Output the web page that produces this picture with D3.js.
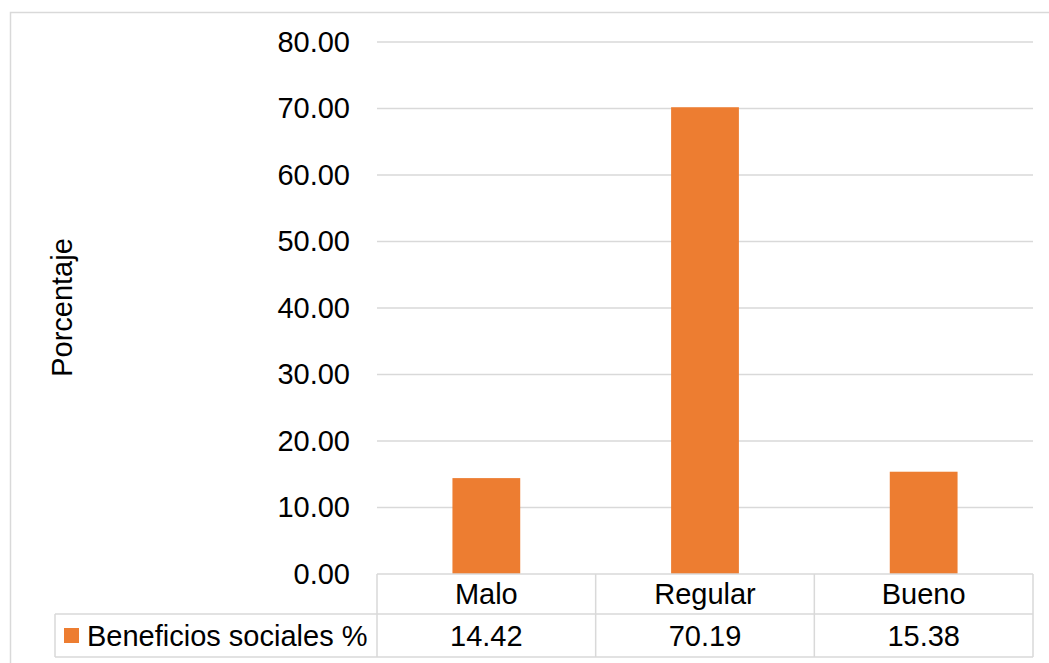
<!DOCTYPE html>
<html>
<head>
<meta charset="utf-8">
<script src="https://cdn.jsdelivr.net/npm/d3@7"></script>
<style>
  html, body { margin: 0; padding: 0; background: #fff; }
  svg { display: block; }
  text { font-family: "Liberation Sans", Arial, sans-serif; fill: #000; }
</style>
</head>
<body>
<svg id="chart" width="1049" height="663"></svg>
<script>
const categories = ["Malo", "Regular", "Bueno"];
const values = [14.42, 70.19, 15.38];
const valueLabels = ["14.42", "70.19", "15.38"];
const seriesName = "Beneficios sociales %";
const yTicks = [0, 10, 20, 30, 40, 50, 60, 70, 80];
const yTitle = "Porcentaje";

const svg = d3.select("#chart");
const W = 1049, H = 663;
const plot = { left: 377, right: 1033, top: 42, bottom: 574 };
const gridColor = "#d9d9d9";
const barColor = "#ED7D31";
const fontSize = 29;

// outer chart border (extends past the image on right and bottom)
svg.append("rect")
  .attr("x", 10.5).attr("y", 12.5)
  .attr("width", W + 20).attr("height", H + 20)
  .attr("fill", "#fff").attr("stroke", gridColor).attr("stroke-width", 1.5);

const y = d3.scaleLinear().domain([0, 80]).range([plot.bottom, plot.top]);
const x = d3.scaleBand().domain(categories)
  .range([plot.left, plot.right])
  .paddingInner(0.69).paddingOuter(0.345);
const col = d3.scaleBand().domain(categories).range([plot.left, plot.right]);

// gridlines
svg.append("g").selectAll("line").data(yTicks.filter(d => d > 0)).join("line")
  .attr("x1", plot.left).attr("x2", plot.right)
  .attr("y1", d => y(d)).attr("y2", d => y(d))
  .attr("stroke", gridColor).attr("stroke-width", 1.5);

// y axis labels
const yAxis = d3.axisLeft(y).tickValues(yTicks).tickFormat(d3.format(".2f")).tickSize(0).tickPadding(27);
const ya = svg.append("g").attr("transform", `translate(${plot.left},0)`).call(yAxis);
ya.select(".domain").remove();
ya.selectAll("text").attr("font-size", fontSize)
  .attr("font-family", "Liberation Sans, Arial, sans-serif").attr("fill", "#000");

// bars
svg.append("g").selectAll("rect").data(categories).join("rect")
  .attr("x", d => x(d)).attr("width", x.bandwidth())
  .attr("y", (d, i) => y(values[i]))
  .attr("height", (d, i) => y(0) - y(values[i]))
  .attr("fill", barColor);

// data table
const rowTop = plot.bottom, rowMid = 614, rowBot = 657, legLeft = 55;
const tg = svg.append("g").attr("stroke", gridColor).attr("stroke-width", 1.5).attr("fill", "none");
tg.append("line").attr("x1", plot.left).attr("x2", plot.right).attr("y1", rowTop).attr("y2", rowTop);
tg.append("line").attr("x1", legLeft).attr("x2", plot.right).attr("y1", rowMid).attr("y2", rowMid);
tg.append("line").attr("x1", legLeft).attr("x2", plot.right).attr("y1", rowBot).attr("y2", rowBot);
tg.append("line").attr("x1", legLeft).attr("x2", legLeft).attr("y1", rowMid).attr("y2", rowBot);
const colEdges = categories.map(c => col(c)).concat([plot.right]);
tg.selectAll("line.v").data(colEdges).join("line").attr("class", "v")
  .attr("x1", d => d).attr("x2", d => d).attr("y1", rowTop).attr("y2", rowBot);

svg.append("g").selectAll("text").data(categories).join("text")
  .attr("x", d => col(d) + col.bandwidth() / 2)
  .attr("y", (rowTop + rowMid) / 2)
  .attr("dy", "0.35em").attr("text-anchor", "middle")
  .attr("font-size", fontSize).text(d => d);

svg.append("g").selectAll("text").data(valueLabels).join("text")
  .attr("x", (d, i) => col(categories[i]) + col.bandwidth() / 2)
  .attr("y", (rowMid + rowBot) / 2)
  .attr("dy", "0.35em").attr("text-anchor", "middle")
  .attr("font-size", fontSize).text(d => d);

// legend key
svg.append("rect").attr("x", 64).attr("y", 628).attr("width", 15).attr("height", 15).attr("fill", barColor);
svg.append("text").attr("x", 87).attr("y", (rowMid + rowBot) / 2).attr("dy", "0.35em")
  .attr("font-size", fontSize).text(seriesName);

// y title
svg.append("text")
  .attr("transform", `translate(72, ${(240 + 375) / 2}) rotate(-90)`)
  .attr("text-anchor", "middle").attr("font-size", fontSize).text(yTitle);
</script>
</body>
</html>
